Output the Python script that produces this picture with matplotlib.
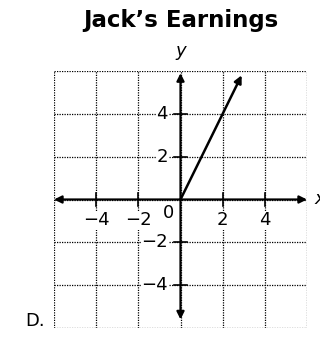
import matplotlib

matplotlib.use("Agg")
import matplotlib.pyplot as plt

title = "Jack\u2019s Earnings"
option_label = "D."

# hours worked vs dollars earned, y = 2x
line_x = [0, 2.9]
line_y = [0, 5.8]

x_ticks = [-4, -2, 2, 4]
y_ticks = [-4, -2, 2, 4]
grid_vals = [-6, -4, -2, 0, 2, 4, 6]


def fmt(t: int) -> str:
    return "\u2212%d" % -t if t < 0 else str(t)


def main() -> None:
    fig = plt.figure(figsize=(3.2, 3.39), dpi=100)
    fig.patch.set_facecolor("white")
    ax = fig.add_axes([54 / 320, 11 / 339, 253 / 320, 257 / 339])
    ax.set_xlim(-6, 6)
    ax.set_ylim(-6, 6)

    # dotted grid and border
    for v in grid_vals:
        ax.axvline(v, color="black", lw=0.9, ls=(0, (1, 1)), zorder=1)
        ax.axhline(v, color="black", lw=0.9, ls=(0, (1, 1)), zorder=1)
    ax.set_xticks([])
    ax.set_yticks([])
    for sp in ax.spines.values():
        sp.set_visible(False)

    # axes with arrowheads at both ends
    arrow = dict(arrowstyle="<|-|>", color="black", lw=1.6, mutation_scale=11,
                 shrinkA=0, shrinkB=0)
    ax.annotate("", xy=(6, 0), xytext=(-6, 0), arrowprops=arrow, zorder=3)
    ax.annotate("", xy=(0, 5.9), xytext=(0, -5.6), arrowprops=arrow, zorder=3)

    # tick crosses on the axes
    for t in x_ticks:
        ax.plot([t, t], [-0.3, 0.3], color="black", lw=1.2, zorder=3)
    for t in y_ticks:
        ax.plot([-0.3, 0.3], [t, t], color="black", lw=1.2, zorder=3)

    font = dict(fontsize=13, color="black", family="DejaVu Sans")
    bbox = dict(facecolor="white", edgecolor="none", pad=0.5)
    for t in x_ticks:
        ax.text(t, -0.55, fmt(t), ha="center", va="top", bbox=bbox, zorder=4,
                **font)
    ax.text(-0.55, -0.2, "0", ha="center", va="top", bbox=bbox, zorder=4, **font)
    for t in y_ticks:
        ax.text(-0.6, t, fmt(t), ha="right", va="center", bbox=bbox, zorder=4,
                **font)

    # earnings line
    ax.annotate("", xy=(line_x[1], line_y[1]), xytext=(line_x[0], line_y[0]),
                arrowprops=dict(arrowstyle="-|>", color="black", lw=1.8,
                                mutation_scale=11, shrinkA=0, shrinkB=0),
                zorder=3)

    ax.text(0, 6.5, "y", ha="center", va="bottom", fontsize=13, style="italic")
    ax.text(6.35, 0, "x", ha="left", va="center", fontsize=13, style="italic",
            clip_on=False)

    fig.text(181 / 320, 1 - 20 / 339, title, ha="center", va="center",
             fontsize=16.5, fontweight="bold", family="DejaVu Sans")
    fig.text(25 / 320, 1 - 321 / 339, option_label, ha="left", va="center",
             fontsize=13, family="DejaVu Sans")

    fig.savefig("out.png", dpi=100)


if __name__ == "__main__":
    main()
